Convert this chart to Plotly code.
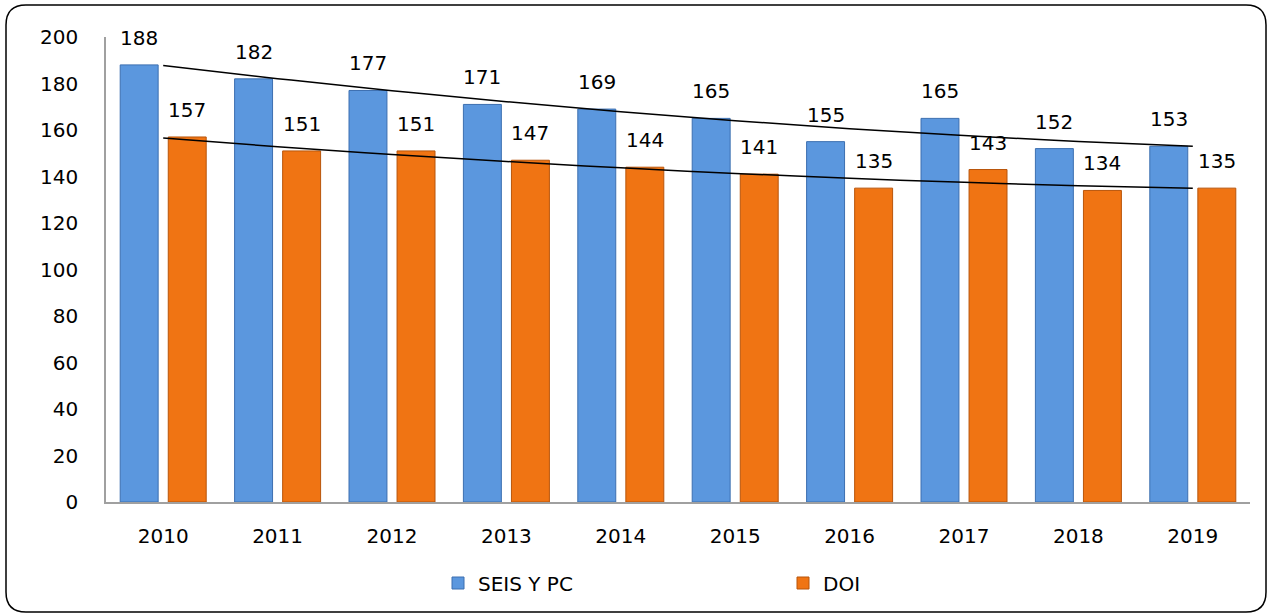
import numpy as np
import plotly.graph_objects as go

years = ["2010", "2011", "2012", "2013", "2014", "2015", "2016", "2017", "2018", "2019"]
seis = [188, 182, 177, 171, 169, 165, 155, 165, 152, 153]
doi = [157, 151, 151, 147, 144, 141, 135, 143, 134, 135]
y_ticks = [0, 20, 40, 60, 80, 100, 120, 140, 160, 180, 200]

BLUE = "#5B97DE"
BLUE_EDGE = "#3C6FB0"
ORANGE = "#F07413"
ORANGE_EDGE = "#B8550B"
FONT = "DejaVu Sans, sans-serif"
FS = 20

W, H = 1272, 614
ML, MR, MT, MB = 106, 22, 37, 112
PW, PH = W - ML - MR, H - MT - MB

# second-order polynomial trend lines fitted to the data
xi = np.arange(1, len(years) + 1)
seis_trend = np.polyval(np.polyfit(xi, seis, 2), xi)
doi_trend = np.polyval(np.polyfit(xi, doi, 2), xi)

fig = go.Figure()
fig.add_trace(go.Bar(x=years, y=seis, name="SEIS Y PC",
                     marker=dict(color=BLUE, line=dict(color=BLUE_EDGE, width=1))))
fig.add_trace(go.Bar(x=years, y=doi, name="DOI",
                     marker=dict(color=ORANGE, line=dict(color=ORANGE_EDGE, width=1))))
fig.add_trace(go.Scatter(x=years, y=seis_trend, mode="lines", showlegend=False,
                         line=dict(color="black", width=1.5, shape="spline"), hoverinfo="skip"))
fig.add_trace(go.Scatter(x=years, y=doi_trend, mode="lines", showlegend=False,
                         line=dict(color="black", width=1.5, shape="spline"), hoverinfo="skip"))

annotations = []
for i, (s, d) in enumerate(zip(seis, doi)):
    annotations.append(dict(x=i, y=s, xref="x", yref="y", text=str(s), showarrow=False,
                            xshift=-24, yshift=27, yanchor="middle",
                            font=dict(family=FONT, size=FS, color="black")))
    annotations.append(dict(x=i, y=d, xref="x", yref="y", text=str(d), showarrow=False,
                            xshift=24, yshift=27, yanchor="middle",
                            font=dict(family=FONT, size=FS, color="black")))

# rounded outer border (pixel -> paper conversion)
def to_px(x):
    return (x - ML) / PW

def to_py(y):
    return (H - MB - y) / PH

x0, x1, y0, y1, r = 6, 1266, 5, 612, 20
path = (f"M {to_px(x0 + r)},{to_py(y0)} L {to_px(x1 - r)},{to_py(y0)} "
        f"Q {to_px(x1)},{to_py(y0)} {to_px(x1)},{to_py(y0 + r)} "
        f"L {to_px(x1)},{to_py(y1 - r)} Q {to_px(x1)},{to_py(y1)} {to_px(x1 - r)},{to_py(y1)} "
        f"L {to_px(x0 + r)},{to_py(y1)} Q {to_px(x0)},{to_py(y1)} {to_px(x0)},{to_py(y1 - r)} "
        f"L {to_px(x0)},{to_py(y0 + r)} Q {to_px(x0)},{to_py(y0)} {to_px(x0 + r)},{to_py(y0)} Z")

fig.update_layout(
    width=W, height=H,
    margin=dict(l=ML, r=MR, t=MT, b=MB),
    paper_bgcolor="white", plot_bgcolor="white",
    barmode="group", bargap=0.16, bargroupgap=0.21,
    font=dict(family=FONT, size=FS, color="black"),
    xaxis=dict(type="category", range=[-0.5, len(years) - 0.5], showline=True,
               linecolor="#A0A0A0", linewidth=1.5, ticks="", ticklabelstandoff=15,
               tickfont=dict(family=FONT, size=FS), showgrid=False),
    yaxis=dict(range=[0, 200], tickvals=y_ticks, showline=True, linecolor="#A0A0A0",
               linewidth=1.5, ticks="", showgrid=False, zeroline=False, ticklabelstandoff=22,
               tickfont=dict(family=FONT, size=FS)),
    legend=dict(orientation="h", x=to_px(438), xanchor="left", y=to_py(583), yanchor="middle",
                entrywidth=300, entrywidthmode="pixels",
                font=dict(family=FONT, size=FS), itemwidth=30),
    annotations=annotations,
    shapes=[dict(type="path", path=path, xref="paper", yref="paper",
                 line=dict(color="black", width=1.5), layer="above")],
)

fig.write_html("out.html", config={"displayModeBar": False},
               post_script="document.body.style.margin='0';document.body.style.overflow='hidden';")
